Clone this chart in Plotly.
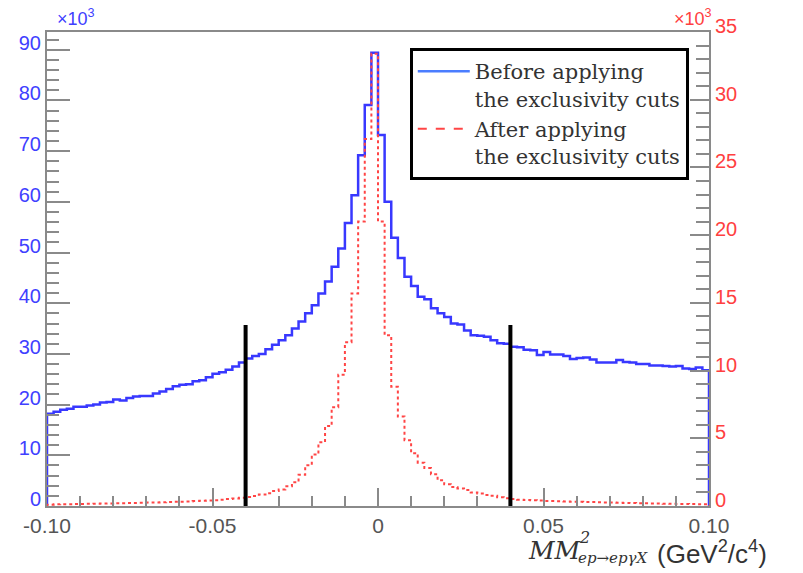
import numpy as np
import plotly.graph_objects as go

# ---------------- data (counts in units of 10^3) ----------------
x_min, x_max, n_bins = -0.10, 0.10, 100

before_cuts_k = [
    18.2, 18.6, 19.0, 19.2, 19.6, 19.6, 19.8, 20.0, 20.4, 20.5,
    21.0, 20.8, 21.3, 21.6, 21.7, 21.7, 22.2, 22.6, 23.1, 23.6,
    23.9, 24.0, 24.6, 24.8, 25.4, 26.1, 26.4, 26.9, 27.5, 28.3,
    29.1, 29.6, 30.0, 30.9, 31.8, 32.7, 33.7, 35.0, 36.4, 38.0,
    39.6, 41.9, 44.3, 47.2, 50.8, 55.8, 61.3, 69.2, 79.1, 89.4,
    73.2, 60.0, 52.9, 48.9, 45.2, 43.4, 41.3, 40.8, 39.0, 38.0,
    37.3, 36.0, 35.8, 34.6, 33.7, 33.6, 33.4, 32.7, 32.1, 32.0,
    31.4, 31.3, 30.8, 30.7, 29.8, 30.4, 29.9, 29.9, 29.6, 29.0,
    29.2, 29.3, 28.9, 28.3, 28.3, 28.3, 28.8, 28.4, 28.3, 28.0,
    28.0, 27.7, 27.7, 27.6, 27.5, 27.6, 27.1, 27.0, 27.3, 26.8,
]

after_cuts_k = [
    0.10, 0.12, 0.13, 0.13, 0.15, 0.15, 0.16, 0.17, 0.18, 0.19,
    0.20, 0.21, 0.22, 0.23, 0.24, 0.25, 0.26, 0.27, 0.29, 0.31,
    0.32, 0.33, 0.36, 0.38, 0.40, 0.43, 0.47, 0.52, 0.56, 0.60,
    0.66, 0.74, 0.84, 0.95, 1.10, 1.22, 1.45, 1.75, 2.30, 3.00,
    3.80, 4.70, 5.90, 7.30, 9.70, 12.1, 15.7, 21.0, 27.1, 33.4,
    21.0, 12.6, 8.80, 6.60, 4.85, 3.90, 3.20, 2.80, 2.35, 1.90,
    1.60, 1.40, 1.30, 1.18, 1.00, 0.92, 0.82, 0.76, 0.64, 0.57,
    0.52, 0.47, 0.44, 0.42, 0.40, 0.37, 0.36, 0.35, 0.33, 0.32,
    0.31, 0.30, 0.29, 0.27, 0.26, 0.25, 0.24, 0.23, 0.22, 0.21,
    0.20, 0.19, 0.18, 0.17, 0.16, 0.15, 0.15, 0.14, 0.13, 0.12,
]

cut_positions = [-0.04, 0.04]
cut_line_top_k = 35.7

x_tick_vals = [-0.10, -0.05, 0.0, 0.05, 0.10]
x_tick_labels = ["-0.10", "-0.05", "0", "0.05", "0.10"]
left_range_k = [0, 93.5]
right_range_k = [0, 35]

legend_names = ["Before applying<br>the exclusivity cuts",
                "After applying<br>the exclusivity cuts"]

# ---------------- build histogram outlines ----------------
edges = np.linspace(x_min, x_max, n_bins + 1)


def step_xy(vals):
    xs = [edges[0]] + list(edges[:-1]) + [edges[-1], edges[-1]]
    ys = [0] + list(vals) + [vals[-1], 0]
    return xs, ys


BLUE = "#3838ff"
RED = "#ff4545"
AXIS_GRAY = "#8a8a8a"

fig = go.Figure()

bx, by = step_xy(before_cuts_k)
fig.add_trace(go.Scatter(x=bx, y=by, mode="lines", line_shape="hv",
                         line=dict(color=BLUE, width=2.5),
                         showlegend=False, yaxis="y", hoverinfo="skip"))

ax, ay = step_xy(after_cuts_k)
fig.add_trace(go.Scatter(x=ax, y=ay, mode="lines", line_shape="hv",
                         line=dict(color=RED, width=2, dash="dot"),
                         showlegend=False, yaxis="y2", hoverinfo="skip"))

# legend entries
fig.add_trace(go.Scatter(x=[None], y=[None], mode="lines", name=legend_names[0],
                         line=dict(color="#4a7dff", width=2.5)))
fig.add_trace(go.Scatter(x=[None], y=[None], mode="lines", name=legend_names[1],
                         line=dict(color=RED, width=2, dash="dash"), yaxis="y2"))

# cut lines
for xc in cut_positions:
    fig.add_shape(type="line", xref="x", yref="y", x0=xc, x1=xc, y0=0,
                  y1=cut_line_top_k, line=dict(color="black", width=4))

fig.update_layout(
    width=803, height=573,
    margin=dict(l=47, r=94, t=32, b=67),
    paper_bgcolor="white", plot_bgcolor="white",
    font=dict(family="Liberation Sans"),
    xaxis=dict(range=[x_min, x_max], tickmode="array", tickvals=x_tick_vals,
               ticktext=x_tick_labels, ticks="inside", ticklen=18, tickwidth=1.5,
               tickcolor=AXIS_GRAY,
               minor=dict(dtick=0.01, tick0=x_min, ticks="inside", ticklen=10,
                          tickwidth=1.5, tickcolor=AXIS_GRAY),
               showline=True, linecolor=AXIS_GRAY, linewidth=2, mirror=True,
               showgrid=False, zeroline=False,
               tickfont=dict(family="Liberation Sans", size=21, color="#555555")),
    yaxis=dict(range=left_range_k, tick0=0, dtick=10, ticks="inside", ticklen=23,
               tickwidth=1.5, tickcolor=AXIS_GRAY,
               minor=dict(dtick=2, ticks="inside", ticklen=12, tickwidth=1.5,
                          tickcolor=AXIS_GRAY),
               showline=True, linecolor=AXIS_GRAY, linewidth=2,
               showgrid=False, zeroline=False, ticklabelshift=-7,
               tickfont=dict(family="Liberation Sans", size=20, color="#4040ff")),
    yaxis2=dict(range=right_range_k, overlaying="y", side="right", tick0=0, dtick=5,
                ticks="inside", ticklen=19, tickwidth=1.5, tickcolor=AXIS_GRAY,
                minor=dict(dtick=1, ticks="inside", ticklen=13, tickwidth=1.5,
                           tickcolor=AXIS_GRAY),
                showline=True, linecolor=AXIS_GRAY, linewidth=2,
                showgrid=False, zeroline=False, ticklabelshift=-6,
                tickfont=dict(family="Liberation Sans", size=20, color="#ff4040")),
    legend=dict(x=0.548, y=0.966, xanchor="left", yanchor="top",
                bordercolor="black", borderwidth=3, bgcolor="white",
                font=dict(family="DejaVu Serif", size=21, color="#333333"),
                valign="top", tracegroupgap=0, itemwidth=52),
)

annotations = [
    dict(text="×10<sup>3</sup>", xref="paper", yref="paper", x=0.012, y=1.03,
         xanchor="left", yanchor="middle", showarrow=False,
         font=dict(family="Liberation Sans", size=18, color="#4040ff")),
    dict(text="×10<sup>3</sup>", xref="paper", yref="paper", x=0.944, y=1.03,
         xanchor="left", yanchor="middle", showarrow=False,
         font=dict(family="Liberation Sans", size=18, color="#ff4040")),
    dict(text="<i>MM</i>", xref="paper", yref="paper", x=0.7236, y=-0.094,
         xanchor="left", yanchor="middle", showarrow=False,
         font=dict(family="DejaVu Serif", size=25, color="#333333")),
    dict(text="<i>2</i>", xref="paper", yref="paper", x=0.800, y=-0.066,
         xanchor="left", yanchor="middle", showarrow=False,
         font=dict(family="DejaVu Serif", size=16, color="#333333")),
    dict(text="<i>ep→epγX</i>", xref="paper", yref="paper", x=0.799, y=-0.110,
         xanchor="left", yanchor="middle", showarrow=False,
         font=dict(family="DejaVu Serif", size=15, color="#333333")),
    dict(text="(GeV<sup>2</sup>/c<sup>4</sup>)", xref="paper", yref="paper",
         x=0.918, y=-0.099, xanchor="left", yanchor="middle", showarrow=False,
         font=dict(family="Liberation Sans", size=26, color="#333333")),
]
fig.update_layout(annotations=annotations)

fig.write_html("out.html")
